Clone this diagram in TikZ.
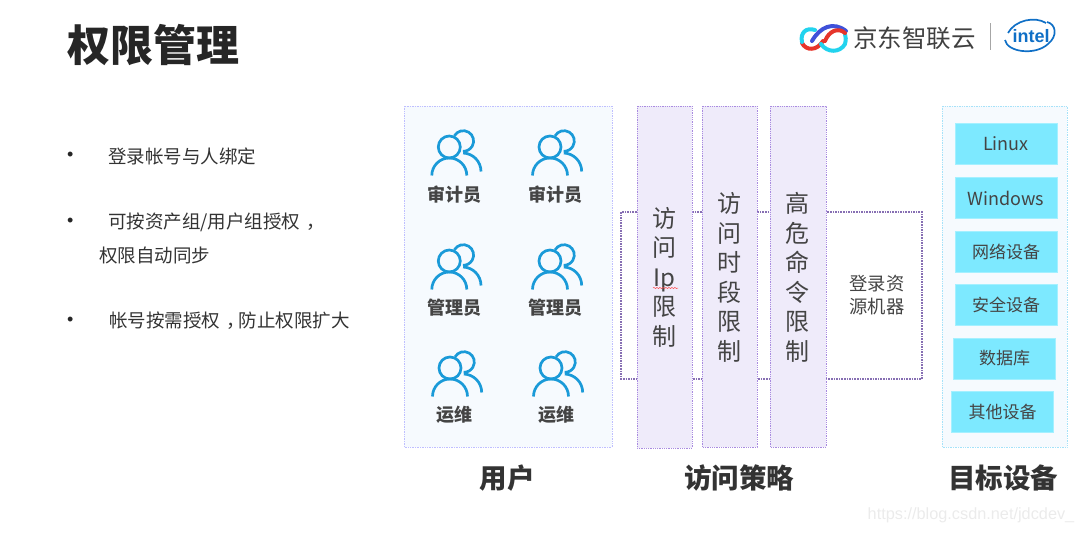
\documentclass[tikz,border=0pt]{standalone}
\usepackage{fontspec}
\setmainfont{Noto Sans CJK SC}
\newfontfamily\latinsans{Liberation Sans}
\usetikzlibrary{calc,decorations.pathmorphing}
\definecolor{inktext}{HTML}{444444}
\definecolor{iconblue}{HTML}{1A9AD8}
\definecolor{userfill}{HTML}{F6FAFE}
\definecolor{policyfill}{HTML}{EFEBFA}
\definecolor{policyline}{HTML}{A98BE0}
\definecolor{devfill}{HTML}{7DE9FF}
\definecolor{logocyan}{HTML}{22D3EE}
\definecolor{logoblue}{HTML}{3F51D9}
\definecolor{logored}{HTML}{E6352B}
\definecolor{intelblue}{HTML}{0F6FC6}
\tikzset{
	x=1pt, y=-1pt,
	iconline/.style={line width=2.7pt, color=iconblue},
	logoline/.style={line width=4pt, line cap=round},
	rolelabel/.style={font=\fontsize{18}{22}\selectfont\bfseries, color=inktext},
	headlabel/.style={font=\fontsize{27.5}{32}\selectfont\bfseries, color=black!80},
	bodylabel/.style={font=\fontsize{18.5}{22}\selectfont, color=black!80, anchor=west, inner sep=0},
	dotlabel/.style={font=\latinsans\fontsize{18}{22}\selectfont, color=black!85, anchor=west, inner sep=0},
	stacklabel/.style={font=\fontsize{24}{29.5}\selectfont, color=inktext, align=center, inner sep=0},
	devbox/.style={fill=devfill, draw=devfill!70!white, line width=0.5pt, minimum width=102, minimum height=41, inner sep=0, font=\fontsize{17}{22}\selectfont, text=inktext},
}
\def\usericon(#1,#2){
	\begin{scope}[shift={(#1,#2)}]
		\draw[iconline] (0, 0) circle (11);
		\draw[iconline] ($(0, 28.5)+(-17.5, 0)$) arc (180:360:17.5);
		\draw[iconline] ($(14, -6)+({10.3*cos(-150)},{10.3*sin(-150)})$) arc (-150:92:10.3);
		\draw[iconline] ($(13.2, 24.5)+({18.5*cos(-88)},{18.5*sin(-88)})$) arc (-88:0:18.5);
	\end{scope}
}
\def\midcomma{\hspace{6pt}，\hspace{-6pt}}

\begin{document}
\begin{tikzpicture}
	\useasboundingbox (0, 0) rectangle (1080, 533);
	%%%%% START %%%%%

	\node[font=\fontsize{43}{50}\selectfont\bfseries, color=black!85] (title) at (153, 45) {权限管理};

	% logo
	\draw[logoline, color=logored] (802, 43) .. controls (806, 51) and (817, 51) .. (823, 41);
	\draw[logoline, color=logocyan] (815, 30) .. controls (806, 27) and (800, 33) .. (802, 42);
	\draw[logoline, color=logoblue] (812, 41) .. controls (820, 27) and (833, 21) .. (846, 31);
	\draw[logoline, color=logocyan] (821, 44) .. controls (827, 53) and (840, 53) .. (845, 44) .. controls (846, 40) and (846, 37) .. (845, 34);
	\draw[logoline, color=logored] (825, 41) .. controls (829, 31) and (838, 27) .. (845, 33);
	\node[font=\fontsize{24.5}{28}\selectfont, color=black!75] (brandname) at (914.5, 38) {京东智联云};
	\draw[line width=1pt, color=black!35] (990, 23) -- (990, 50);
	\draw[line width=1.7pt, color=intelblue] (1005, 40) .. controls (1007, 52) and (1035, 56) .. (1048, 44) .. controls (1058, 36) and (1056, 24) .. (1047, 22);
	\draw[line width=1.7pt, color=intelblue] (1008, 33) .. controls (1015, 20) and (1035, 16) .. (1046, 23);
	\node[font=\latinsans\fontsize{18}{20}\selectfont\bfseries, color=intelblue] (intelname) at (1031, 36) {intel};

	% left list
	\node[dotlabel] (dotone) at (67, 156) {•};
	\node[bodylabel] (itemone) at (108, 156) {登录帐号与人绑定};
	\node[dotlabel] (dottwo) at (67, 222) {•};
	\node[bodylabel] (itemtwo) at (108, 222) {可按资产组/用户组授权\midcomma};
	\node[bodylabel] (itemtwob) at (99, 255) {权限自动同步};
	\node[dotlabel] (dotthree) at (67, 321) {•};
	\node[bodylabel] (itemthree) at (109, 321) {帐号按需授权\midcomma 防止权限扩大};

	% users
	\draw[line width=0.7pt, densely dotted, color=blue!25!white, fill=userfill] (404, 106) rectangle (612, 447);
	\usericon(449.3,147)
	\usericon(550,147)
	\usericon(449.3,261)
	\usericon(550,261)
	\usericon(450,368)
	\usericon(551,368)
	\node[rolelabel] (auditorone) at (454, 195) {审计员};
	\node[rolelabel] (auditortwo) at (555, 195) {审计员};
	\node[rolelabel] (adminone) at (454, 308) {管理员};
	\node[rolelabel] (admintwo) at (555, 308) {管理员};
	\node[rolelabel] (opsone) at (454, 415) {运维};
	\node[rolelabel] (opstwo) at (556, 415) {运维};
	\node[headlabel] (userhead) at (507, 478) {用户};

	% policies
	\draw[line width=1.6pt, densely dotted, color=policyline!80!black] (621, 212) rectangle (922, 379);
	\draw[line width=0.8pt, densely dotted, color=policyline, fill=policyfill] (637, 106) rectangle (692, 448);
	\draw[line width=0.8pt, densely dotted, color=policyline, fill=policyfill] (702, 106) rectangle (757, 447);
	\draw[line width=0.8pt, densely dotted, color=policyline, fill=policyfill] (770, 106) rectangle (826, 447);
	\node[stacklabel] (ipstack) at (664, 277) {访\\问\\Ip\\限\\制};
	\node[stacklabel] (timestack) at (729, 277.5) {访\\问\\时\\段\\限\\制};
	\node[stacklabel] (cmdstack) at (797, 277.5) {高\\危\\命\\令\\限\\制};
	\draw[line width=0.5pt, color=red!70!white, decorate, decoration={snake, amplitude=0.6pt, segment length=3pt}] (653, 288) -- (678, 288);
	\node[font=\fontsize{18.3}{23}\selectfont, color=inktext, align=center, inner sep=0] (loginlabel) at (877, 295.5) {登录资\\源机器};
	\node[headlabel] (policyhead) at (739, 478) {访问策略};

	% targets
	\draw[line width=0.7pt, densely dotted, color=cyan!35!white, fill=userfill] (942, 106) rectangle (1067, 447);
	\node[devbox, font=\fontsize{18}{22}\selectfont] (linuxbox) at (1006, 143.5) {Linux};
	\node[devbox, font=\fontsize{18}{22}\selectfont] (windowsbox) at (1006, 198) {Windows};
	\node[devbox] (netbox) at (1006, 251.5) {网络设备};
	\node[devbox] (securebox) at (1006, 305) {安全设备};
	\node[devbox] (databox) at (1004.5, 358.5) {数据库};
	\node[devbox] (otherbox) at (1002.5, 412) {其他设备};
	\node[headlabel] (targethead) at (1003, 478) {目标设备};

	\node[font=\latinsans\fontsize{16.3}{20}\selectfont, color=black!8] (watermark) at (971, 515) {https://blog.csdn.net/jdcdev\_};

	%%%%% END %%%%%
\end{tikzpicture}
\end{document}
